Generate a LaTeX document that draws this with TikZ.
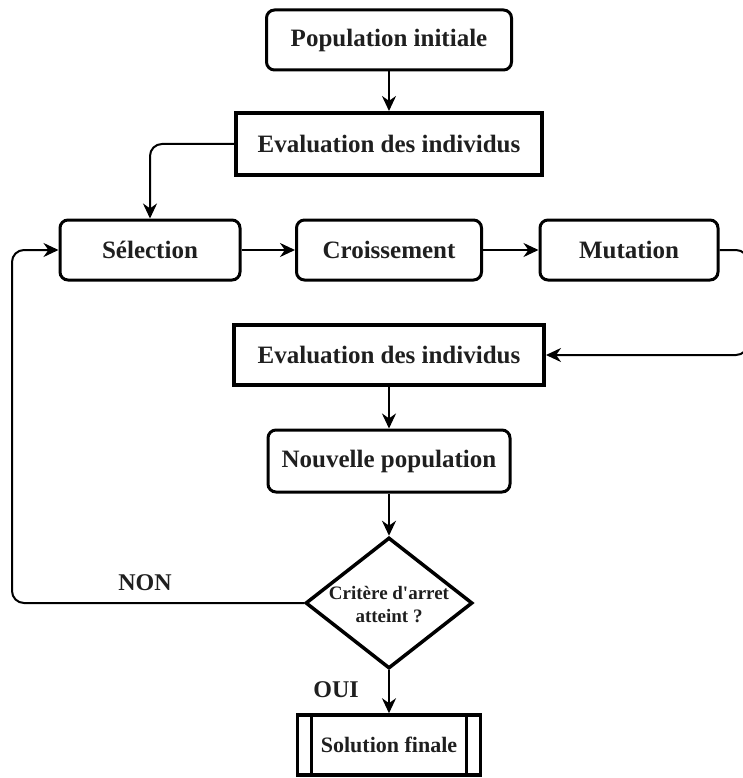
\documentclass[tikz,border=0pt]{standalone}
\usepackage{fontspec}
\setmainfont{Liberation Serif}
\usetikzlibrary{shapes.geometric,arrows.meta}
\begin{document}
\begin{tikzpicture}[x=1pt,y=-1pt,
  txt/.style={font=\fontsize{25}{28}\selectfont\bfseries, text=black!88},
  rbox/.style={txt, draw, rounded corners=8pt, line width=3pt, minimum height=60pt, inner sep=0pt},
  sbox/.style={txt, draw, line width=4pt, minimum height=60pt, inner sep=0pt},
  conn/.style={line width=2pt, -{Stealth[length=15pt,width=14pt]}}
]
\useasboundingbox (0,0) rectangle (742,778);

\node[rbox, minimum width=245pt] (pop) at (389,40) {Population initiale};
\node[sbox, minimum width=306pt, minimum height=62pt] (ev1) at (389,144) {Evaluation des individus};
\node[rbox, minimum width=180pt] (sel) at (150,250) {Sélection};
\node[rbox, minimum width=185pt] (cro) at (389,250) {Croissement};
\node[rbox, minimum width=178pt] (mut) at (629,250) {Mutation};
\node[sbox, minimum width=310pt] (ev2) at (389,355) {Evaluation des individus};
\node[rbox, minimum width=242pt, minimum height=62pt] (nouv) at (389,461) {Nouvelle population};
\node[draw, diamond, line width=3.5pt, minimum width=167pt, minimum height=131pt, inner sep=0pt] (crit) at (389,603) {};
\node[font=\fontsize{19}{23}\selectfont\bfseries, text=black!88, align=center] (crittxt) at (389,605) {Critère d\textquotesingle arret\\atteint ?};
\node[sbox, line width=3.5pt, minimum width=183pt] (sol) at (389,745) {\fontsize{22}{26}\selectfont Solution finale};
\draw[line width=3pt] ([xshift=16pt]sol.north west) -- ([xshift=16pt]sol.south west);
\draw[line width=3pt] ([xshift=-16pt]sol.north east) -- ([xshift=-16pt]sol.south east);

\node[txt, font=\fontsize{24}{28}\selectfont\bfseries] (non) at (145,583) {NON};
\node[txt, font=\fontsize{24}{28}\selectfont\bfseries] (oui) at (336,690) {OUI};

\coordinate (r1) at (748,250);
\coordinate (r2) at (748,355);
\coordinate (l1) at (12,603);

\draw[conn] (pop.south) -- (ev1.north);
\draw[conn, rounded corners=12pt] (ev1.west) -| (sel.north);
\draw[conn] (sel.east) -- (cro.west);
\draw[conn] (cro.east) -- (mut.west);
\draw[conn, rounded corners=12pt] (mut.east) -- (r1) -- (r2) -- (ev2.east);
\draw[conn] (ev2.south) -- (nouv.north);
\draw[conn] (nouv.south) -- (crit.north);
\draw[conn, rounded corners=12pt] (crit.west) -- (l1) |- (sel.west);
\draw[conn] (crit.south) -- (sol.north);
\end{tikzpicture}
\end{document}
